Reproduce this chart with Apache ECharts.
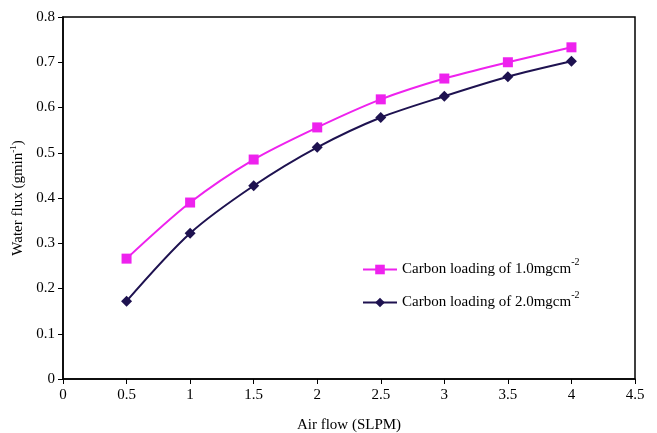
<!DOCTYPE html>
<html>
<head>
<meta charset="utf-8">
<script src="https://cdn.jsdelivr.net/npm/echarts@6/dist/echarts.min.js"></script>
<style>
  html, body { margin: 0; padding: 0; background: #fff; }
  #chart { width: 657px; height: 433px; }
</style>
</head>
<body>
<div id="chart"></div>
<script>
// air flow (SLPM)
const airFlow = [0.5, 1, 1.5, 2, 2.5, 3, 3.5, 4];
// water flux (g/min)
const flux1 = [0.266, 0.39, 0.485, 0.556, 0.618, 0.664, 0.70, 0.733];
const flux2 = [0.172, 0.322, 0.427, 0.512, 0.578, 0.625, 0.668, 0.702];
const seriesNames = ["Carbon loading of 1.0mgcm", "Carbon loading of 2.0mgcm"];

const font = "Liberation Serif";
const myChart = echarts.init(document.getElementById("chart"));

function pairs(xs, ys) {
  return xs.map((x, i) => [x, ys[i]]);
}

const options = {
  animation: false,
  textStyle: { fontFamily: font },
  grid: {
    left: 63,
    right: 22,
    top: 17,
    bottom: 54,
    containLabel: false,
    outerBoundsMode: "none",
    show: true,
    borderColor: "#000",
    borderWidth: 1.5,
  },
  legend: {
    orient: "vertical",
    left: 357,
    top: 252,
    itemWidth: 34,
    itemHeight: 12,
    itemGap: 13,
    formatter: (name) => `{a|${name}}{s|-2}`,
    textStyle: {
      rich: {
        a: { fontFamily: font, fontSize: 15, color: "#000" },
        s: { fontFamily: font, fontSize: 10, color: "#000", verticalAlign: "bottom", padding: [0, 0, 15, 0] },
      },
    },
    data: seriesNames,
  },
  xAxis: {
    type: "value",
    min: 0,
    max: 4.5,
    interval: 0.5,
    name: "Air flow (SLPM)",
    nameLocation: "middle",
    nameGap: 39,
    nameTextStyle: { fontFamily: font, fontSize: 15, color: "#000" },
    axisLine: { lineStyle: { color: "#000", width: 1.5 } },
    axisTick: { show: true, length: 5, lineStyle: { color: "#000" } },
    axisLabel: { fontFamily: font, fontSize: 15, color: "#000", margin: 9 },
    splitLine: { show: false },
  },
  yAxis: {
    type: "value",
    min: 0,
    max: 0.8,
    interval: 0.1,
    name: "{a|Water flux (gmin}{s|-1}{a|)}",
    nameLocation: "middle",
    nameGap: 33,
    nameTextStyle: {
      rich: {
        a: { fontFamily: font, fontSize: 15, color: "#000" },
        s: { fontFamily: font, fontSize: 9, color: "#000", verticalAlign: "bottom", padding: [0, 0, 8, 0] },
      },
    },
    axisLine: { show: true, lineStyle: { color: "#000", width: 1.5 } },
    axisTick: { show: true, length: 5, lineStyle: { color: "#000" } },
    axisLabel: { fontFamily: font, fontSize: 15, color: "#000", margin: 8 },
    splitLine: { show: false },
  },
  series: [
    {
      name: seriesNames[0],
      type: "line",
      smooth: 0.3,
      data: pairs(airFlow, flux1),
      symbol: "rect",
      symbolSize: 10,
      lineStyle: { color: "#ee22ee", width: 2 },
      itemStyle: { color: "#ee22ee" },
    },
    {
      name: seriesNames[1],
      type: "line",
      smooth: 0.3,
      data: pairs(airFlow, flux2),
      symbol: "diamond",
      symbolSize: 11,
      lineStyle: { color: "#1e1250", width: 2 },
      itemStyle: { color: "#1e1250" },
    },
  ],
};

myChart.setOption(options);
</script>
</body>
</html>
